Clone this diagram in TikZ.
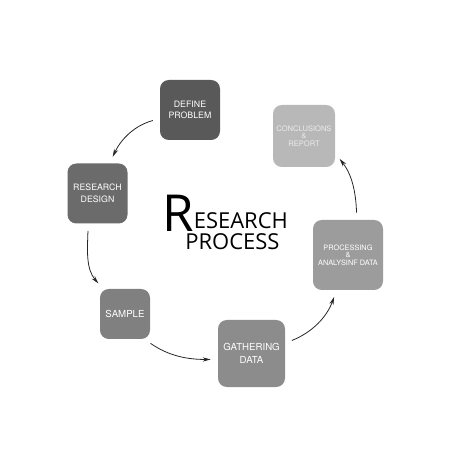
\documentclass[tikz,border=0pt]{standalone}
\usepackage{fontspec}
\setmainfont{TeX Gyre Heros}
\newfontfamily\titlefont{Open Sans}
\usetikzlibrary{arrows.meta,shapes,positioning}

\definecolor{defcol}{gray}{0.35}
\definecolor{descol}{gray}{0.42}
\definecolor{samcol}{gray}{0.50}
\definecolor{gatcol}{gray}{0.55}
\definecolor{procol}{gray}{0.61}
\definecolor{concol}{gray}{0.72}

\tikzset{
    stage/.style={rectangle,rounded corners=5pt,inner sep=0pt,align=center,
        text=white,font=\fontsize{5}{6.6}\selectfont},
    flow/.style={-{Stealth[length=4.5pt,width=2.4pt]},black!85,line width=0.45pt,
        shorten <=4pt,shorten >=4pt}
}

\begin{document}
\begin{tikzpicture}
    \useasboundingbox[fill=white] (0,0) rectangle (9,9);

    % the six stages
    \node[stage,fill=defcol,minimum size=1.2cm] (define) at (3.8,6.8) {DEFINE\\PROBLEM};
    \node[stage,fill=descol,minimum size=1.2cm] (design) at (1.95,5.13) {RESEARCH\\DESIGN};
    \node[stage,fill=samcol,minimum size=1.0cm,font=\fontsize{5.5}{6.6}\selectfont] (sample) at (2.5,2.72) {SAMPLE};
    \node[stage,fill=gatcol,minimum size=1.34cm,font=\fontsize{5.5}{7}\selectfont] (gather) at (5.03,1.93) {GATHERING\\DATA};
    \node[stage,fill=procol,minimum size=1.4cm,font=\fontsize{4.2}{4.3}\selectfont] (process) at (6.96,3.9) {PROCESSING\\\&\\ANALYSINF DATA};
    \node[stage,fill=concol,minimum size=1.24cm,text=white!92!black,font=\fontsize{4.3}{4.2}\selectfont] (report) at (6.08,6.28) {CONCLUSIONS\\\&\\REPORT};

    % title
    \node[anchor=base west,inner sep=0pt] (title) at (3.24,4.36)
        {\titlefont\fontsize{29}{29}\selectfont R\raisebox{2.2pt}{\fontsize{12.5}{12.5}\selectfont ESEARCH}};
    \node[anchor=base west,inner sep=0pt] (title2) at (3.7,4.0)
        {\titlefont\fontsize{12.5}{12.5}\selectfont PROCESS};

    % arrows round the cycle
    \draw[flow] (define.196) to[out=195,in=65] (design.68);
    \draw[flow] (design.253) to[out=268,in=131] (sample.131);
    \draw[flow] (sample.308) to[out=325,in=180] (gather.190);
    \draw[flow] (gather.17) to[out=22,in=250] (process.252);
    \draw[flow] (process.76) to[out=92,in=308] (report.331);
\end{tikzpicture}
\end{document}
